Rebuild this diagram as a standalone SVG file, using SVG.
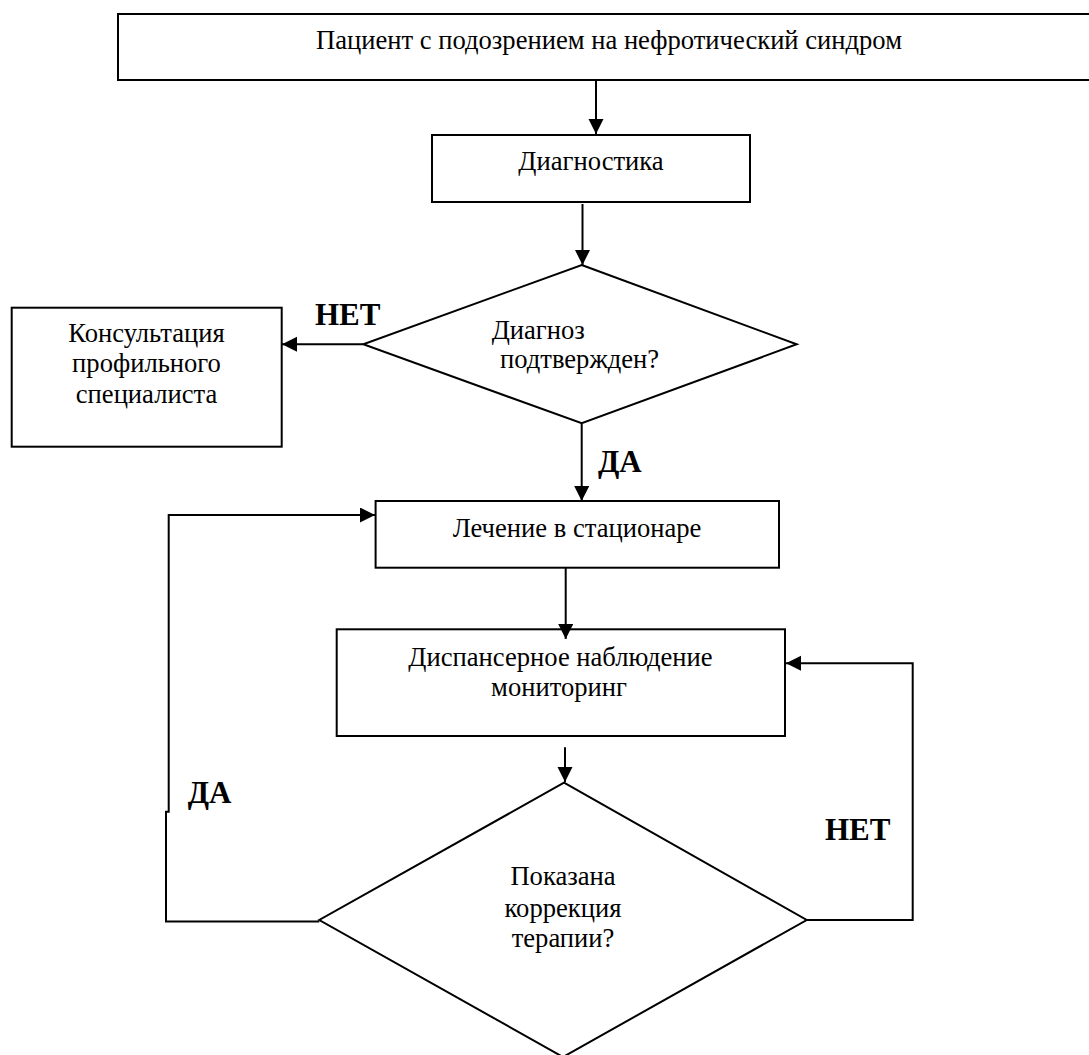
<svg xmlns="http://www.w3.org/2000/svg" width="1089" height="1055" viewBox="0 0 1089 1055">
<style>
.box{fill:#fff;stroke:#000;stroke-width:2}
.dia{fill:#fff;stroke:#000;stroke-width:2}
.t{font-family:"Liberation Serif","Times New Roman",serif;font-size:26.6px;fill:#000}
.c{text-anchor:middle}
.lbl{font-family:"Liberation Serif","Times New Roman",serif;font-size:31px;font-weight:bold;fill:#000}
.con{fill:none;stroke:#000;stroke-width:2}
</style>
<defs>
<marker id="arr" markerUnits="userSpaceOnUse" markerWidth="16" markerHeight="16" refX="15" refY="7.5" orient="auto">
<path d="M0,0 L15,7.5 L0,15 z" fill="#000"/>
</marker>
</defs>
<rect width="1089" height="1055" fill="#fff"/>
<g id="n_patient">
<rect class="box" x="118" y="14" width="1000" height="66"/>
<text class="t c" x="609" y="49">Пациент с подозрением на нефротический синдром</text>
</g>
<g id="n_diag">
<rect class="box" x="432" y="135" width="318" height="67"/>
<text class="t c" x="591" y="170">Диагностика</text>
</g>
<g id="n_confirm">
<polygon class="dia" points="581.7,265 796.7,344.3 581.7,423.3 363.3,344.3"/>
<text class="t" x="491.7" y="339">Диагноз</text>
<text class="t" x="500" y="368">подтвержден?</text>
</g>
<g id="n_consult">
<rect class="box" x="11.7" y="307.7" width="270" height="139"/>
<text class="t c" x="146.5" y="342">Консультация</text>
<text class="t c" x="146.5" y="372">профильного</text>
<text class="t c" x="146.5" y="403">специалиста</text>
</g>
<g id="n_hosp">
<rect class="box" x="375.6" y="501" width="403.4" height="66.7"/>
<text class="t c" x="577" y="537">Лечение в стационаре</text>
</g>
<g id="n_disp">
<rect class="box" x="336.7" y="629.3" width="448.3" height="106.7"/>
<text class="t c" x="560.5" y="666">Диспансерное наблюдение</text>
<text class="t c" x="559" y="696">мониторинг</text>
</g>
<g id="n_correct">
<polygon class="dia" points="564,782.7 806.7,920 563,1057 319.3,920"/>
<text class="t c" x="563" y="885">Показана</text>
<text class="t c" x="563" y="916.7">коррекция</text>
<text class="t c" x="563" y="947.3">терапии?</text>
</g>
<g id="connectors">
<path class="con" d="M596,80 V134" marker-end="url(#arr)"/>
<path class="con" d="M582.5,204 V265" marker-end="url(#arr)"/>
<path class="con" d="M363,344.3 H282" marker-end="url(#arr)"/>
<path class="con" d="M581.7,423.3 V501" marker-end="url(#arr)"/>
<path class="con" d="M565.7,568 V639" marker-end="url(#arr)"/>
<path class="con" d="M565,747.3 V782" marker-end="url(#arr)"/>
<path class="con" d="M319.3,921.5 H166 V811.7 H168.7 V515 H375" marker-end="url(#arr)"/>
<path class="con" d="M806.7,920 H912.7 V663.3 H786" marker-end="url(#arr)"/>
</g>
<g id="labels">
<text class="lbl" x="315" y="325">НЕТ</text>
<text class="lbl" x="598" y="471.7">ДА</text>
<text class="lbl" x="187.7" y="803.3">ДА</text>
<text class="lbl" x="825" y="840">НЕТ</text>
</g>
</svg>
